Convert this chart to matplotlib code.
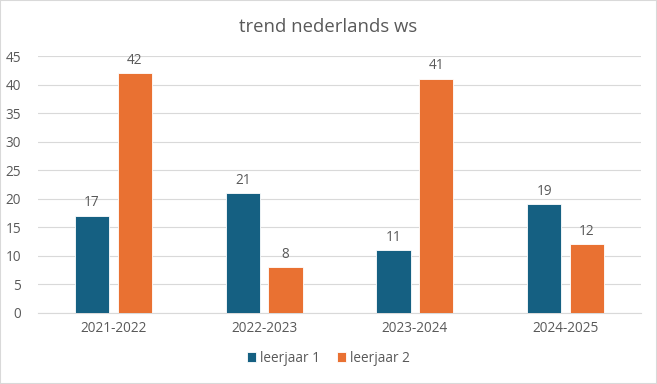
import matplotlib
matplotlib.use("Agg")
import matplotlib.pyplot as plt
import numpy as np
from matplotlib.patches import Rectangle

categories = ["2021-2022", "2022-2023", "2023-2024", "2024-2025"]
leerjaar1 = [17, 21, 11, 19]
leerjaar2 = [42, 8, 41, 12]
series_names = ["leerjaar 1", "leerjaar 2"]
title = "trend nederlands ws"

blue = "#156082"
orange = "#E97132"
grey_text = "#595959"

plt.rcParams['font.family'] = ['Open Sans', 'DejaVu Sans']

fig = plt.figure(figsize=(6.57, 3.84), dpi=100)
ax = fig.add_axes([38/657, 1-313/384, (641-38)/657, (313-56)/384])

x = np.arange(len(categories))
w = 0.226
off = 0.142
b1 = ax.bar(x - off, leerjaar1, w, color=blue, edgecolor="white", linewidth=0.6, label=series_names[0], zorder=3)
b2 = ax.bar(x + off, leerjaar2, w, color=orange, edgecolor="white", linewidth=0.6, label=series_names[1], zorder=3)

for bars, vals in ((b1, leerjaar1), (b2, leerjaar2)):
    for r, v in zip(bars, vals):
        ax.annotate(str(v), (r.get_x() + r.get_width()/2, v), xytext=(0, 4),
                    textcoords="offset points", ha="center", va="bottom",
                    fontsize=9.8, color=grey_text)

ax.set_xlim(-0.5, len(categories) - 0.5)
ax.set_ylim(0, 45)
ax.set_yticks(range(0, 46, 5))
ax.set_xticks(x)
ax.set_xticklabels(categories)
ax.tick_params(axis="both", length=0, labelsize=9.8, colors=grey_text)
ax.tick_params(axis="y", pad=12)
ax.tick_params(axis="x", pad=6)
ax.grid(axis="y", color="#d9d9d9", linewidth=0.8, zorder=0)
for s in ["top", "right", "left"]:
    ax.spines[s].set_visible(False)
ax.spines["bottom"].set_color("#d9d9d9")
ax.spines["bottom"].set_linewidth(0.8)

fig.text(0.5, 1-27/384, title, ha="center", va="center", fontsize=13.3, color=grey_text)

leg = fig.legend(handles=[b1, b2], labels=series_names, loc="center", bbox_to_anchor=(0.5, 1-358/384),
                 ncol=2, frameon=False, fontsize=9.8, handlelength=0.7, handleheight=0.7,
                 handletextpad=0.3, columnspacing=1.2, labelcolor=grey_text)

fig.patches.append(Rectangle((0, 0), 1, 1, transform=fig.transFigure, fill=False,
                             edgecolor="#d9d9d9", linewidth=1.5))

fig.savefig("out.png", dpi=100)
